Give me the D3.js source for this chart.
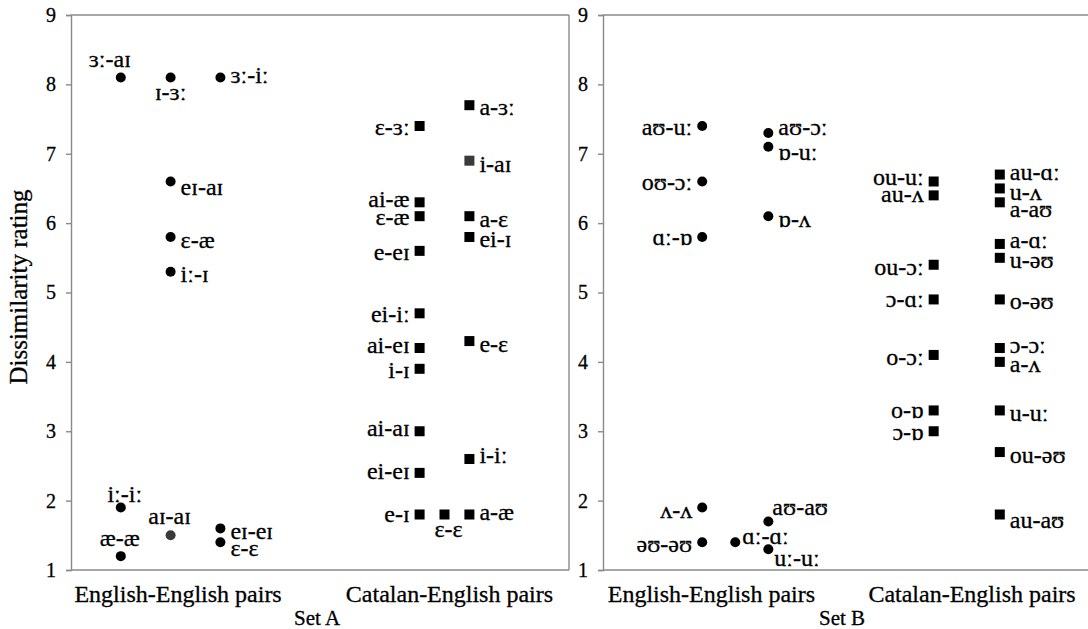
<!DOCTYPE html>
<html><head><meta charset="utf-8">
<script src="https://cdn.jsdelivr.net/npm/d3@7"></script>
<style>
body{margin:0;background:#fff;}
svg text{font-family:"Liberation Serif","DejaVu Serif",serif;fill:#000;stroke:#000;stroke-width:0.3px;}
</style></head>
<body><svg id="c" width="1088" height="629"></svg>
<script>
// ---------- DATA ----------
const yTicks = [1,2,3,4,5,6,7,8,9];
const categories = ["English-English pairs","Catalan-English pairs"];
const setNames = ["Set A","Set B"];

// Set A – English-English pairs (circles)
const aEEPairs   = ["ɜː-aɪ","ɪ-ɜː","ɜː-iː","eɪ-aɪ","ɛ-æ","iː-ɪ","iː-iː","æ-æ","aɪ-aɪ","eɪ-eɪ","ɛ-ɛ"];
const aEERatings = [8.1,8.1,8.1,6.6,5.8,5.3,1.9,1.2,1.5,1.6,1.4];
const aEEColumn  = [1,2,3,2,2,2,1,1,2,3,3];
// Set A – Catalan-English pairs (squares)
const aCEPairs   = ["ɛ-ɜː","ai-æ","ɛ-æ","e-eɪ","ei-iː","ai-eɪ","i-ɪ","ai-aɪ","ei-eɪ","e-ɪ","ɛ-ɛ","a-ɜː","i-aɪ","a-ɛ","ei-ɪ","e-ɛ","i-iː","a-æ"];
const aCERatings = [7.4,6.3,6.1,5.6,4.7,4.2,3.9,3.0,2.4,1.8,1.8,7.7,6.9,6.1,5.8,4.3,2.6,1.8];
const aCEColumn  = [7,7,7,7,7,7,7,7,7,7,7.5,8,8,8,8,8,8,8];
// Set B – English-English pairs (circles)
const bEEPairs   = ["aʊ-uː","oʊ-ɔː","ɑː-ɒ","aʊ-ɔː","ɒ-uː","ɒ-ʌ","ʌ-ʌ","əʊ-əʊ","ɑː-ɑː","aʊ-aʊ","uː-uː"];
const bEERatings = [7.4,6.6,5.8,7.3,7.1,6.1,1.9,1.4,1.4,1.7,1.3];
const bEEColumn  = [3,3,3,5,5,5,3,3,4,5,5];
// Set B – Catalan-English pairs (squares)
const bCEPairs   = ["ou-uː","au-ʌ","ou-ɔː","ɔ-ɑː","o-ɔː","o-ɒ","ɔ-ɒ","au-ɑː","u-ʌ","a-aʊ","a-ɑː","u-əʊ","o-əʊ","ɔ-ɔː","a-ʌ","u-uː","ou-əʊ","au-aʊ"];
const bCERatings = [6.6,6.4,5.4,4.9,4.1,3.3,3.0,6.7,6.5,6.3,5.7,5.5,4.9,4.2,4.0,3.3,2.7,1.8];
const bCEColumn  = [10,10,10,10,10,10,10,12,12,12,12,12,12,12,12,12,12,12];

// greyed markers
const greyMarkers = {"A:aɪ-aɪ":true,"A:i-aɪ":true};

// label placement: [side, dx, baseline offset from marker centre] – annotation styling
const placeAEE = {
 "ɜː-aɪ":["t",-11,-10],"ɪ-ɜː":["b",0,23],"ɜː-iː":["r",0,6],"eɪ-aɪ":["r",0,13],"ɛ-æ":["r",0,11],"iː-ɪ":["r",0,10],
 "iː-iː":["t",4,-6],"æ-æ":["t",-1,-10],"aɪ-aɪ":["t",-1,-11],"eɪ-eɪ":["r",0,11],"ɛ-ɛ":["r",0,14]
};
const placeACE = {
 "ɛ-ɜː":["l",0,9],"ai-æ":["l",0,5],"ɛ-æ":["l",0,9],"e-eɪ":["l",0,9],"ei-iː":["l",0,9],"ai-eɪ":["l",0,5],"i-ɪ":["l",0,9],
 "ai-aɪ":["l",0,5],"ei-eɪ":["l",0,6],"e-ɪ":["l",0,7],"ɛ-ɛ":["b",4,22],
 "a-ɜː":["r",0,10],"i-aɪ":["r",0,11],"a-ɛ":["r",0,11],"ei-ɪ":["r",0,10],"e-ɛ":["r",0,11],"i-iː":["r",0,4],"a-æ":["r",0,5]
};
const placeBEE = {
 "aʊ-uː":["l",0,9],"oʊ-ɔː":["l",0,8],"ɑː-ɒ":["l",0,8],"aʊ-ɔː":["r",0,2],"ɒ-uː":["r",0,13],"ɒ-ʌ":["r",0,11],
 "ʌ-ʌ":["l",0,10],"əʊ-əʊ":["l",0,10],"ɑː-ɑː":["r",-3,2],"aʊ-aʊ":["r",-6,-6],"uː-uː":["r",-4,17]
};
const placeBCE = {
 "ou-uː":["l",0,3],"au-ʌ":["l",0,7],"ou-ɔː":["l",0,10],"ɔ-ɑː":["l",0,8],"o-ɔː":["l",0,10],"o-ɒ":["l",0,8],"ɔ-ɒ":["l",0,9],
 "au-ɑː":["r",0,5],"u-ʌ":["r",0,12],"a-aʊ":["r",0,15],"a-ɑː":["r",0,4],"u-əʊ":["r",0,10],"o-əʊ":["r",0,10],
 "ɔ-ɔː":["r",0,5],"a-ʌ":["r",0,10],"u-uː":["r",0,11],"ou-əʊ":["r",0,11],"au-aʊ":["r",0,13]
};

// ---------- DRAW ----------
const svg = d3.select("#c");
const yTop = 15, yBot = 570;
const y = d3.scaleLinear().domain([1,9]).range([yBot,yTop]);
const axisGrey = "#8a8a8a";
const LABEL_FS = 24;

function panel(cfg){
  const x = d3.scaleLinear().domain(cfg.xDomain).range([cfg.x0,cfg.x1]);
  const g = svg.append("g");
  const line = (x1,y1,x2,y2)=>g.append("line").attr("x1",x1).attr("y1",y1).attr("x2",x2).attr("y2",y2)
      .attr("stroke",axisGrey).attr("stroke-width",1.4);
  line(cfg.x0,yTop,cfg.x1,yTop);
  line(cfg.x0,yBot,cfg.x1,yBot);
  if(cfg.rightBorder) line(cfg.x1,yTop,cfg.x1,yBot);
  const ya = g.append("g").attr("transform",`translate(${cfg.x0},0)`)
    .call(d3.axisLeft(y).tickValues(yTicks).tickFormat(d3.format("d")).tickSize(5).tickPadding(10));
  ya.attr("font-family",null);
  ya.select(".domain").attr("stroke",axisGrey).attr("stroke-width",1.4);
  ya.selectAll(".tick line").attr("stroke",axisGrey).attr("stroke-width",1.4);
  ya.selectAll(".tick text").attr("font-size",20).attr("fill","#000");

  categories.forEach((c,i)=>{
    g.append("text").attr("x",x(cfg.catAt[i])).attr("y",602).attr("text-anchor","middle")
      .attr("font-size",24).text(c);
  });
  g.append("text").attr("x",cfg.setX).attr("y",625).attr("text-anchor","middle").attr("font-size",21).text(cfg.setName);

  const r = 5, s = 10;
  const rows = (grp)=>grp.pairs.map((p,i)=>({p,v:grp.ratings[i],c:grp.cols[i]}));
  g.selectAll("circle.ee").data(rows(cfg.ee)).join("circle")
    .attr("cx",d=>x(d.c)).attr("cy",d=>y(d.v)).attr("r",r)
    .attr("fill",d=>greyMarkers[cfg.key+":"+d.p]?"#3a3a3a":"#000");
  g.selectAll("rect.ce").data(rows(cfg.ce)).join("rect")
    .attr("x",d=>x(d.c)-s/2).attr("y",d=>y(d.v)-s/2).attr("width",s).attr("height",s)
    .attr("fill",d=>greyMarkers[cfg.key+":"+d.p]?"#3a3a3a":"#000");

  function labels(grp, place){
    rows(grp).forEach(d=>{
      const px = x(d.c), py = y(d.v);
      const [side,dx,by] = place[d.p] || ["r",0,9];
      const t = g.append("text").attr("font-size",LABEL_FS).text(d.p).attr("y",py+by);
      if(side==="r") t.attr("x",px+10+dx).attr("text-anchor","start");
      else if(side==="l") t.attr("x",px-10+dx).attr("text-anchor","end");
      else t.attr("x",px+dx).attr("text-anchor","middle");
    });
  }
  labels(cfg.ee,cfg.placeEE);
  labels(cfg.ce,cfg.placeCE);
}

panel({key:"A",x0:71,x1:569,xDomain:[0,10],rightBorder:true,catAt:[2.15,7.6],setX:317,setName:setNames[0],
  ee:{pairs:aEEPairs,ratings:aEERatings,cols:aEEColumn},
  ce:{pairs:aCEPairs,ratings:aCERatings,cols:aCEColumn},
  placeEE:placeAEE, placeCE:placeACE});
panel({key:"B",x0:603,x1:1099,xDomain:[0,15],rightBorder:false,catAt:[3.28,11.16],setX:842,setName:setNames[1],
  ee:{pairs:bEEPairs,ratings:bEERatings,cols:bEEColumn},
  ce:{pairs:bCEPairs,ratings:bCERatings,cols:bCEColumn},
  placeEE:placeBEE, placeCE:placeBCE});

svg.append("text").attr("transform",`translate(27,287) rotate(-90)`)
  .attr("text-anchor","middle").attr("font-size",25).text("Dissimilarity rating");
</script></body></html>
